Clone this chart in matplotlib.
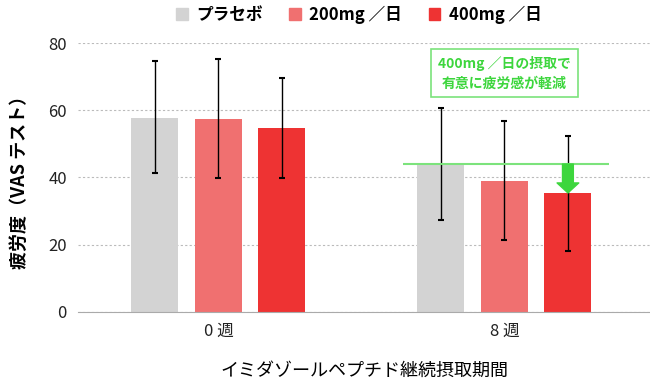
import numpy as np
import matplotlib.pyplot as plt
from matplotlib.patches import Patch

plt.rcParams['font.family'] = ['Noto Sans CJK JP', 'DejaVu Sans']

groups = ['0 週', '8 週']
series = ['プラセボ', '200mg ／日', '400mg ／日']
colors = ['#d3d3d3', '#f07070', '#ee3333']
means = [[57.7, 44.0], [57.4, 39.0], [54.7, 35.4]]
err_hi = [[74.8, 60.7], [75.2, 56.8], [69.6, 52.3]]
err_lo = [[41.2, 27.4], [39.9, 21.4], [39.9, 18.1]]
note = '400mg ／日の摂取で\n有意に疲労感が軽減'
green = '#3dd63d'

fig = plt.figure(figsize=(6.5, 3.85), dpi=100)
ax = fig.add_axes([0.12, 0.19, 0.88, 0.698])

x = np.arange(len(groups))
offs = [-0.222, 0, 0.222]
width = 0.164
for i, name in enumerate(series):
    m = np.array(means[i])
    lo = m - np.array(err_lo[i])
    hi = np.array(err_hi[i]) - m
    ax.bar(x + offs[i], m, width, color=colors[i], zorder=2)
    ax.errorbar(x + offs[i], m, yerr=[lo, hi], fmt='none', ecolor='black',
                elinewidth=1, capsize=2.5, capthick=1.5, zorder=3)

ax.set_xlim(-0.491, 1.509)
ax.set_ylim(0, 80)
ax.set_yticks([0, 20, 40, 60, 80])
ax.set_xticks(x)
ax.set_xticklabels(groups)
ax.yaxis.grid(True, linestyle=(0, (2, 2)), color='#bbbbbb', linewidth=0.8, zorder=0)
for s in ['top', 'right', 'left']:
    ax.spines[s].set_visible(False)
ax.spines['bottom'].set_color('#aaaaaa')
ax.tick_params(length=0, labelsize=12, colors='#222222', pad=8)
ax.tick_params(axis='y', pad=8)

ax.set_ylabel('疲労度（VAS テスト）', fontsize=13, fontweight='bold', labelpad=14)
ax.set_xlabel('イミダゾールペプチド継続摂取期間', fontsize=13, labelpad=16)

# significance marker
ax.hlines(means[0][1], 1 + offs[0] - 0.133, 1 + offs[2] + 0.143, color='#7ce37c', linewidth=1.5, zorder=4)
ax.annotate('', xy=(1 + offs[2], means[2][1]), xytext=(1 + offs[2], means[0][1]),
            arrowprops=dict(arrowstyle='simple,head_length=0.6,head_width=1.3,tail_width=0.65',
                            color=green, shrinkA=0, shrinkB=0, mutation_scale=12), zorder=5)
ax.text(1 + offs[1], 71.1, note, ha='center', va='center', fontsize=10, color=green,
        fontweight='bold', linespacing=1.5,
        bbox=dict(boxstyle='square,pad=0.5', fc='white', ec='#7ce37c', lw=1.2))

handles = [Patch(color=c) for c in colors]
fig.legend(handles, series, loc='upper center', bbox_to_anchor=(0.552, 1.025), ncol=3,
           frameon=False, handlelength=0.7, handleheight=0.7, columnspacing=1.6,
           handletextpad=0.5, prop={'size': 12, 'weight': 'bold'})

fig.savefig('out.png', dpi=100)
